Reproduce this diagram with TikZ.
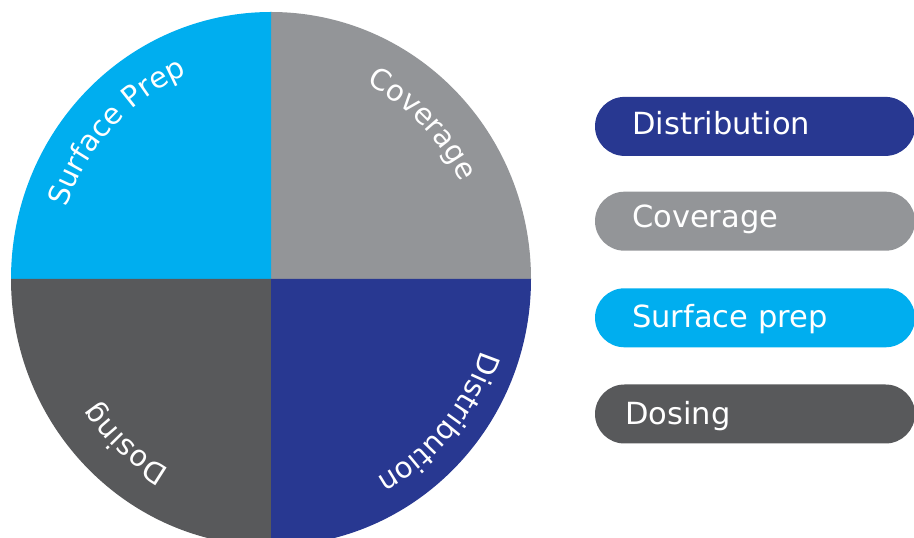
\documentclass[tikz,border=0pt]{standalone}
\usepackage{fontspec}
\setmainfont{DejaVu Sans}
\usetikzlibrary{decorations.text}
\definecolor{lblue}{HTML}{00AEEF}
\definecolor{lgray}{HTML}{939598}
\definecolor{dgray}{HTML}{58595B}
\definecolor{dblue}{HTML}{283891}
\newcommand\arcfnt{\fontsize{29pt}{29pt}\selectfont}
\tikzset{
  pill/.style={rectangle, rounded corners=29.5pt, draw=none, inner sep=0pt,
    minimum width=320pt, minimum height=59pt},
  legtxt/.style={anchor=base west, inner sep=0pt, text=white,
    font=\fontsize{30.5pt}{30.5pt}\selectfont},
  arclabel/.style={decorate, decoration={text along path, text color=white,
    text align=center, text={|\arcfnt|#1}}}
}
\begin{document}
\begin{tikzpicture}[x=1pt,y=1pt]
\useasboundingbox (0,0) rectangle (914,538);
\clip (0,0) rectangle (914,538);
\coordinate (c) at (271,259);
% quadrants
\fill[lgray] (c) -- ++(260pt,0) arc[start angle=0, end angle=90, x radius=260pt, y radius=267pt] -- cycle;
\fill[lblue] (c) -- ++(0,267pt) arc[start angle=90, end angle=180, x radius=260pt, y radius=267pt] -- cycle;
\fill[dgray] (c) -- ++(-260pt,0) arc[start angle=180, end angle=270, x radius=260pt, y radius=267pt] -- cycle;
\fill[dblue] (c) -- ++(0,-267pt) arc[start angle=270, end angle=360, x radius=260pt, y radius=267pt] -- cycle;
% curved labels
\path[arclabel={Coverage}] (c) ++(75:212pt and 218pt)
  arc[start angle=75, end angle=15, x radius=212pt, y radius=218pt];
\path[arclabel={Surface Prep}] (c) ++(172:216pt and 222pt)
  arc[start angle=172, end angle=102, x radius=216pt, y radius=222pt];
\path[arclabel={Distribution}] (c) ++(-5:221pt and 227pt)
  arc[start angle=-5, end angle=-75, x radius=221pt, y radius=227pt];
\path[arclabel={Dosing}] (c) ++(258:211pt and 217pt)
  arc[start angle=258, end angle=198, x radius=211pt, y radius=217pt];
% legend
\node[pill, fill=dblue] (p1) at (755,411.6) {};
\node[pill, fill=lgray] (p2) at (755,316.8) {};
\node[pill, fill=lblue] (p3) at (755,220.2) {};
\node[pill, fill=dgray] (p4) at (755,124) {};
\node[legtxt] (t1) at (632,403) {Distribution};
\node[legtxt] (t2) at (632,310) {Coverage};
\node[legtxt] (t3) at (632,210) {Surface prep};
\node[legtxt] (t4) at (625,113) {Dosing};
\end{tikzpicture}
\end{document}
